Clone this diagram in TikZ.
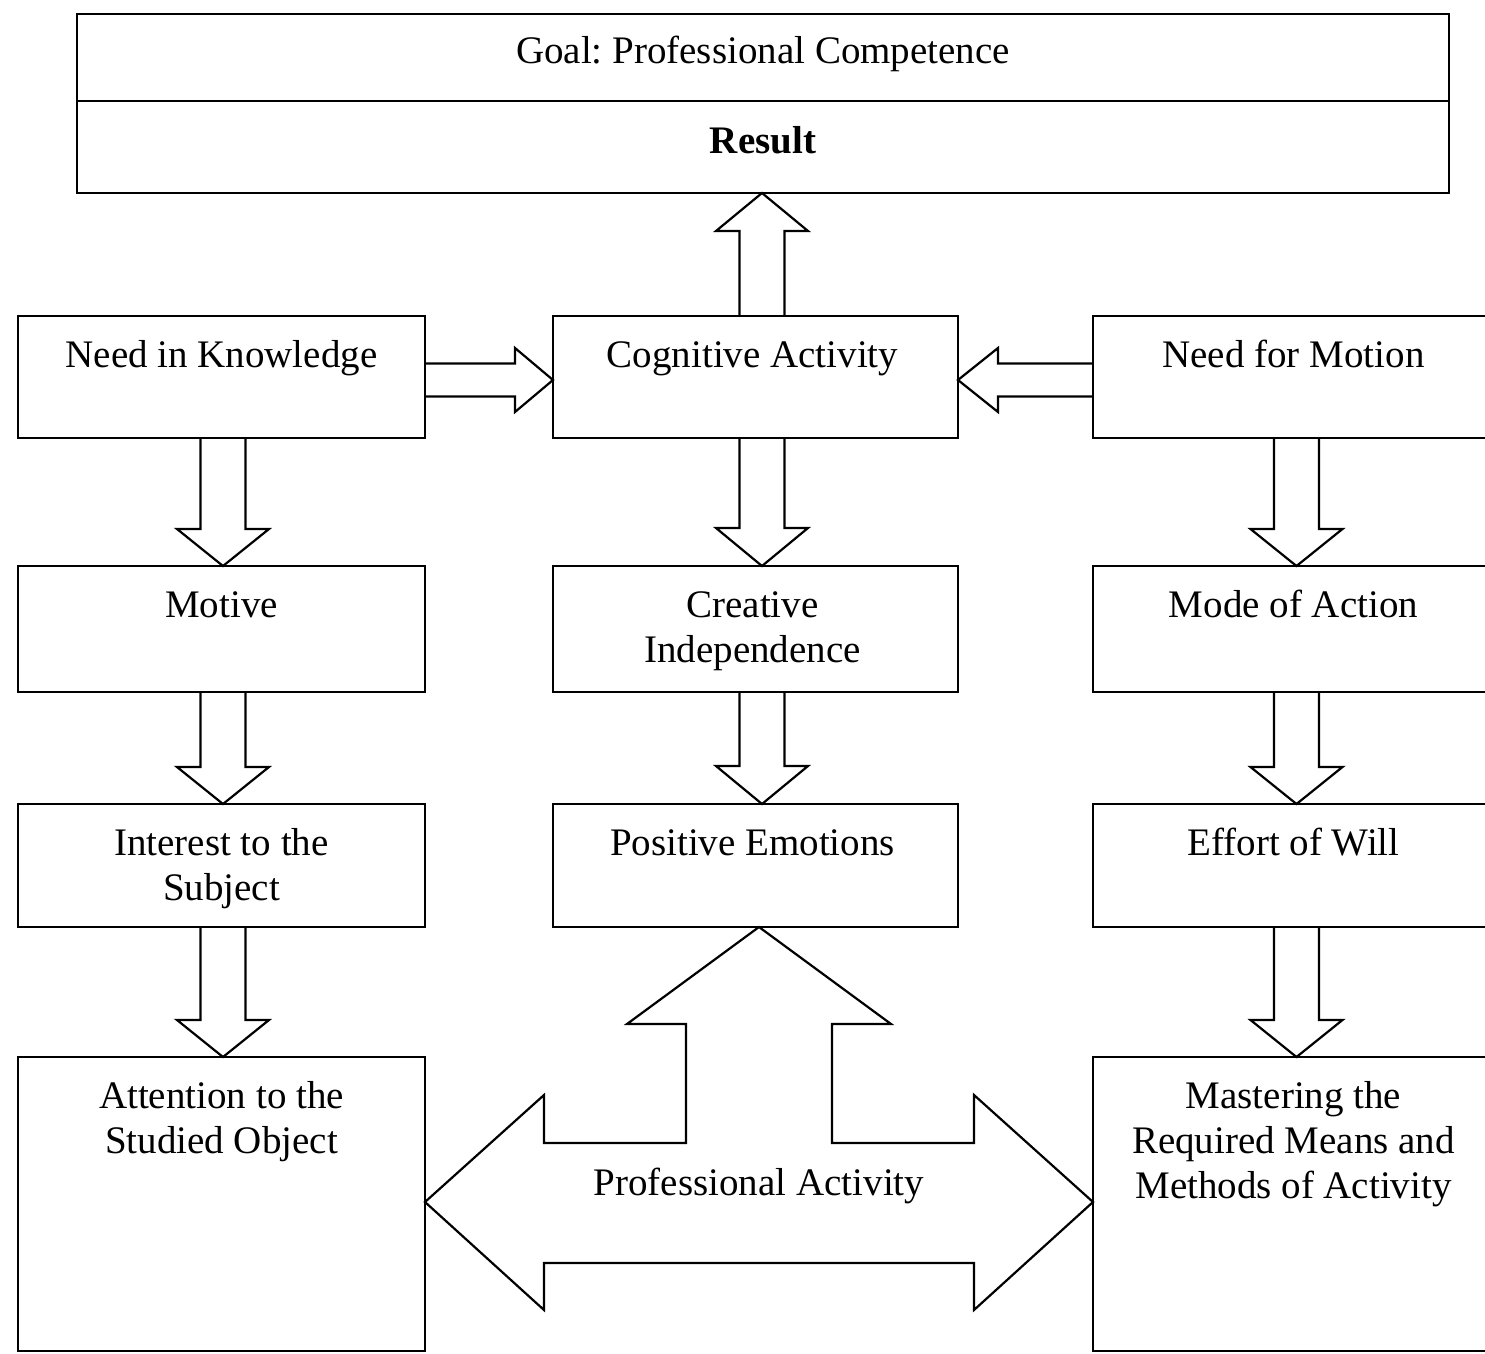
\documentclass[tikz,border=0pt]{standalone}
\usepackage{fontspec}
\setmainfont{Liberation Serif}
\usetikzlibrary{calc}
\frenchspacing
\tikzset{
  box/.style={draw, line width=1.1pt, inner sep=0pt, outer sep=0pt},
  lbl/.style={anchor=north, align=center, inner sep=0pt, font=\fontsize{19.5}{22.5}\selectfont},
  blk/.style={draw, line width=1.1pt, line join=miter},
}
% vertical hollow block arrow: from anchor, to (tip) anchor, x offset, head offset
\newcommand\blkvert[4]{%
  \draw[blk] ($(#1)+(#3-22.5,0)$) -- ($(#2)+(#3-22.5,#4)$) -- ($(#2)+(#3-46,#4)$)
    -- ($(#2)+(#3,0)$) -- ($(#2)+(#3+46,#4)$) -- ($(#2)+(#3+22.5,#4)$) -- ($(#1)+(#3+22.5,0)$);}
% horizontal hollow block arrow: from anchor, to (tip) anchor, y offset, head offset
\newcommand\blkhorz[4]{%
  \draw[blk] ($(#1)+(0,#3-16.5)$) -- ($(#2)+(#4,#3-16.5)$) -- ($(#2)+(#4,#3-32)$)
    -- ($(#2)+(0,#3)$) -- ($(#2)+(#4,#3+32)$) -- ($(#2)+(#4,#3+16.5)$) -- ($(#1)+(0,#3+16.5)$);}
\begin{document}
\begin{tikzpicture}[x=0.5pt,y=-0.5pt]
\useasboundingbox (0,0) rectangle (1485,1354);
\clip (0,0) rectangle (1485,1354);

% top box
\node[box, minimum width=686pt, minimum height=43.5pt] (goal) at (763,57.5) {};
\node[box, minimum width=686pt, minimum height=46pt] (res) at (763,147) {};
\node[lbl] (tgoal) at ($(goal.north)+(0,17.5)$) {\strut Goal: Professional Competence};
\node[lbl, font=\fontsize{19.5}{22.5}\selectfont\bfseries] (tres) at ($(res.north)+(0,20.5)$) {\strut Result};

% left column
\node[box, minimum width=203.5pt, minimum height=61pt] (nk) at (221.5,377) {};
\node[box, minimum width=203.5pt, minimum height=63pt] (mo) at (221.5,629) {};
\node[box, minimum width=203.5pt, minimum height=61.5pt] (it) at (221.5,865.5) {};
\node[box, minimum width=203.5pt, minimum height=147pt] (at) at (221.5,1204) {};
% middle column
\node[box, minimum width=202.5pt, minimum height=61pt] (ca) at (755.5,377) {};
\node[box, minimum width=202.5pt, minimum height=63pt] (ci) at (755.5,629) {};
\node[box, minimum width=202.5pt, minimum height=61.5pt] (pe) at (755.5,865.5) {};
% right column
\node[box, minimum width=203.5pt, minimum height=61pt] (nm) at (1296.5,377) {};
\node[box, minimum width=203.5pt, minimum height=63pt] (ma) at (1296.5,629) {};
\node[box, minimum width=203.5pt, minimum height=61.5pt] (ew) at (1296.5,865.5) {};
\node[box, minimum width=203.5pt, minimum height=147pt] (ms) at (1296.5,1204) {};

% texts
\node[lbl] (tnk) at ($(nk.north)+(0,19.5)$) {\strut Need in Knowledge};
\node[lbl] (tmo) at ($(mo.north)+(0,19.5)$) {\strut Motive};
\node[lbl] (tit) at ($(it.north)+(0,19.5)$) {\strut Interest to the\\Subject};
\node[lbl] (tat) at ($(at.north)+(0,19.5)$) {\strut Attention to the\\Studied Object};
\node[lbl] (tca) at ($(ca.north)+(-3,19.5)$) {\strut Cognitive Activity};
\node[lbl] (tci) at ($(ci.north)+(-3,19.5)$) {\strut Creative\\Independence};
\node[lbl] (tpe) at ($(pe.north)+(-3,19.5)$) {\strut Positive Emotions};
\node[lbl] (tnm) at ($(nm.north)+(-3,19.5)$) {\strut Need for Motion};
\node[lbl] (tma) at ($(ma.north)+(-3,19.5)$) {\strut Mode of Action};
\node[lbl] (tew) at ($(ew.north)+(-3,19.5)$) {\strut Effort of Will};
\node[lbl] (tms) at ($(ms.north)+(-3,19.5)$) {\strut Mastering the\\Required Means and\\Methods of Activity};

% block arrows
\blkvert{nk.south}{mo.north}{1.5}{-37}
\blkvert{mo.south}{it.north}{1.5}{-37}
\blkvert{it.south}{at.north}{1.5}{-37}
\blkvert{ca.north}{ca.north |- res.south}{6.5}{38}
\blkvert{ca.south}{ci.north}{6.5}{-38}
\blkvert{ci.south}{pe.north}{6.5}{-38}
\blkvert{nm.south}{ma.north}{0}{-37}
\blkvert{ma.south}{ew.north}{0}{-37}
\blkvert{ew.south}{ms.north}{0}{-37}
\blkhorz{nk.east}{ca.west}{3}{-38}
\blkhorz{nm.west}{ca.east}{3}{40}

% big three-headed arrow
\coordinate (L) at ($(at.north east)+(0,145)$);
\coordinate (R) at ($(ms.north west)+(0,145)$);
\coordinate (U) at ($(pe.south)+(3.5,0)$);
\draw[blk] (U) -- ($(U)+(132,97)$) -- ($(U)+(73,97)$) -- ($(U)+(73,216)$)
  -- ($(R)+(-119,-59)$) -- ($(R)+(-119,-107)$) -- (R) -- ($(R)+(-119,108)$)
  -- ($(R)+(-119,61)$) -- ($(L)+(119,61)$) -- ($(L)+(119,108)$) -- (L)
  -- ($(L)+(119,-107)$) -- ($(L)+(119,-59)$) -- ($(U)+(-73,216)$)
  -- ($(U)+(-73,97)$) -- ($(U)+(-132,97)$) -- cycle;
\node[anchor=base, inner sep=0pt, font=\fontsize{19.5}{22.5}\selectfont] (tpa) at ($(L)!0.5!(R)+(0,-7)$) {Professional Activity};
\end{tikzpicture}
\end{document}
